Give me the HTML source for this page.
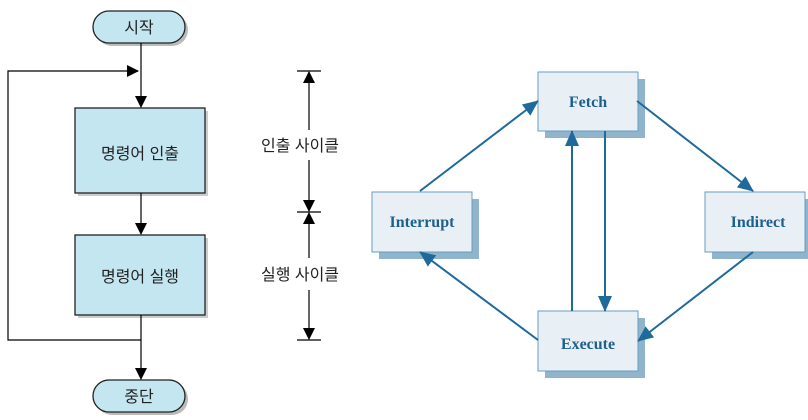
<!DOCTYPE html>
<html><head><meta charset="utf-8"><style>
html,body{margin:0;padding:0;background:#fff;}
svg{display:block;}
</style></head><body>
<svg width="808" height="420" viewBox="0 0 808 420" xmlns="http://www.w3.org/2000/svg">
<defs>
<marker id="ab" markerWidth="12" markerHeight="12" refX="11" refY="6" orient="auto" markerUnits="userSpaceOnUse"><path d="M0,0 L12,6 L0,12 z" fill="#000"/></marker>
<marker id="bl" markerWidth="16" markerHeight="14" refX="15" refY="7" orient="auto" markerUnits="userSpaceOnUse"><path d="M0,0 L16,7 L0,14 z" fill="#1e6a9a"/></marker>
</defs>
<g font-family="'Liberation Sans','Noto Sans CJK KR',sans-serif" font-size="16" fill="#222">
<rect x="96" y="14" width="92" height="32" rx="16" fill="#bbb"/>
<rect x="78" y="111" width="130" height="85" fill="#ccc"/>
<rect x="78" y="238" width="130" height="80" fill="#ccc"/>
<rect x="96" y="383" width="92" height="32" rx="16" fill="#bbb"/>
<rect x="93" y="11" width="92" height="32" rx="16" fill="#c3e6f0" stroke="#222" stroke-width="1.3"/>
<text x="139" y="33" text-anchor="middle">시작</text>
<rect x="75" y="108" width="130" height="85" fill="#c3e6f0" stroke="#222" stroke-width="1.3"/>
<text x="140" y="159" text-anchor="middle">명령어 인출</text>
<rect x="75" y="235" width="130" height="80" fill="#c3e6f0" stroke="#222" stroke-width="1.3"/>
<text x="140" y="282" text-anchor="middle">명령어 실행</text>
<rect x="93" y="380" width="92" height="32" rx="16" fill="#c3e6f0" stroke="#222" stroke-width="1.3"/>
<text x="139" y="402" text-anchor="middle">중단</text>
<g stroke="#000" stroke-width="1.2" fill="none">
<line x1="141" y1="43" x2="141" y2="107" marker-end="url(#ab)"/>
<line x1="141" y1="193" x2="141" y2="234" marker-end="url(#ab)"/>
<line x1="141" y1="315" x2="141" y2="379" marker-end="url(#ab)"/>
<polyline points="141,340 8,340 8,71 138,71" marker-end="url(#ab)"/>
<line x1="297" y1="71" x2="321" y2="71"/>
<line x1="297" y1="212" x2="321" y2="212"/>
<line x1="297" y1="340" x2="321" y2="340"/>
<line x1="309" y1="130" x2="309" y2="72" marker-end="url(#ab)"/>
<line x1="309" y1="160" x2="309" y2="211" marker-end="url(#ab)"/>
<line x1="309" y1="258" x2="309" y2="213" marker-end="url(#ab)"/>
<line x1="309" y1="290" x2="309" y2="339" marker-end="url(#ab)"/>
</g>
<rect x="252" y="132" width="96" height="26" fill="#fff"/>
<text x="300" y="151" text-anchor="middle">인출 사이클</text>
<rect x="252" y="260" width="96" height="28" fill="#fff"/>
<text x="300" y="280" text-anchor="middle">실행 사이클</text>
</g>
<g font-family="'Liberation Serif',serif" font-weight="bold" font-size="16" fill="#1e5f8e">
<rect x="545" y="79" width="100" height="59" fill="#8fb4cc"/>
<rect x="538" y="72" width="100" height="59" fill="#e8f0f6" stroke="#6a9cc0"/>
<text x="588" y="107" text-anchor="middle">Fetch</text>
<rect x="379" y="199" width="100" height="60" fill="#8fb4cc"/>
<rect x="372" y="192" width="100" height="60" fill="#e8f0f6" stroke="#6a9cc0"/>
<text x="422" y="227" text-anchor="middle">Interrupt</text>
<rect x="712" y="199" width="96" height="60" fill="#8fb4cc"/>
<rect x="705" y="192" width="100" height="60" fill="#e8f0f6" stroke="#6a9cc0"/>
<text x="758" y="227" text-anchor="middle">Indirect</text>
<rect x="545" y="318" width="100" height="60" fill="#8fb4cc"/>
<rect x="538" y="311" width="100" height="60" fill="#e8f0f6" stroke="#6a9cc0"/>
<text x="588" y="349" text-anchor="middle">Execute</text>
<g stroke="#1e6a9a" stroke-width="2" fill="none">
<line x1="420" y1="191" x2="538" y2="101" marker-end="url(#bl)"/>
<line x1="637" y1="101" x2="753" y2="191" marker-end="url(#bl)"/>
<line x1="753" y1="252" x2="638" y2="341" marker-end="url(#bl)"/>
<line x1="538" y1="340" x2="420" y2="252" marker-end="url(#bl)"/>
<line x1="572" y1="311" x2="572" y2="131" marker-end="url(#bl)"/>
<line x1="605" y1="131" x2="605" y2="311" marker-end="url(#bl)"/>
</g>
</g>
</svg>
</body></html>
